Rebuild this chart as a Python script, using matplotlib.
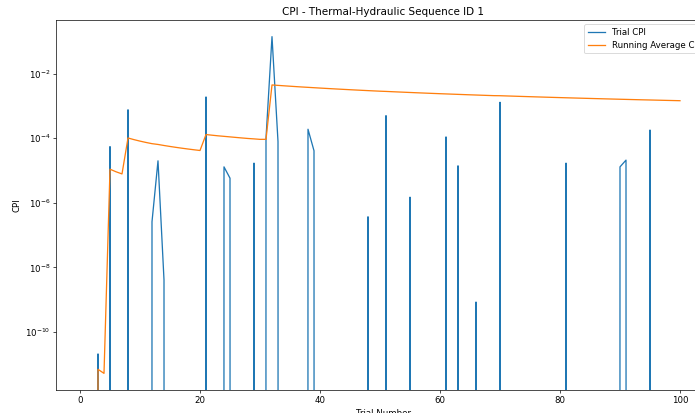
import numpy as np
import matplotlib
matplotlib.use("Agg")
import matplotlib.pyplot as plt

# Trial numbers 1..100; nonzero CPI values (others are zero)
n_trials = 100
nonzero_trials = [3, 5, 8, 12, 13, 14, 21, 24, 25, 29, 31, 32, 33, 38, 39,
                  48, 51, 55, 61, 63, 66, 70, 81, 90, 91, 95]
nonzero_cpi = [2.1e-11, 5.5e-5, 7.6e-4, 2.6e-7, 2.0e-5, 4.1e-9, 1.9e-3, 1.3e-5,
               5.8e-6, 1.7e-5, 1.0e-4, 0.14, 7.9e-5, 1.9e-4, 4.1e-5,
               3.7e-7, 5.0e-4, 1.5e-6, 1.1e-4, 1.4e-5, 8.5e-10, 1.3e-3, 1.7e-5,
               1.3e-5, 2.1e-5, 1.8e-4]

trials = np.arange(1, n_trials + 1)
cpi = np.zeros(n_trials)
for t, v in zip(nonzero_trials, nonzero_cpi):
    cpi[t - 1] = v
running_avg = np.cumsum(cpi) / trials

dpi = 62
fig = plt.figure(figsize=(695 / dpi, 413 / dpi), dpi=dpi)
ax = fig.add_axes([56.3 / 695, (413 - 390.2) / 413, (709.7 - 56.3) / 695, 370.4 / 413])

ax.plot(trials, cpi, label="Trial CPI")
ax.plot(trials, running_avg, label="Running Average CPI")
ax.set_yscale("log")
ax.set_title("CPI - Thermal-Hydraulic Sequence ID 1")
ax.set_xlabel("Trial Number")
ax.set_ylabel("CPI")
ax.legend(loc="upper right")

fig.savefig("out.png", dpi=dpi)
